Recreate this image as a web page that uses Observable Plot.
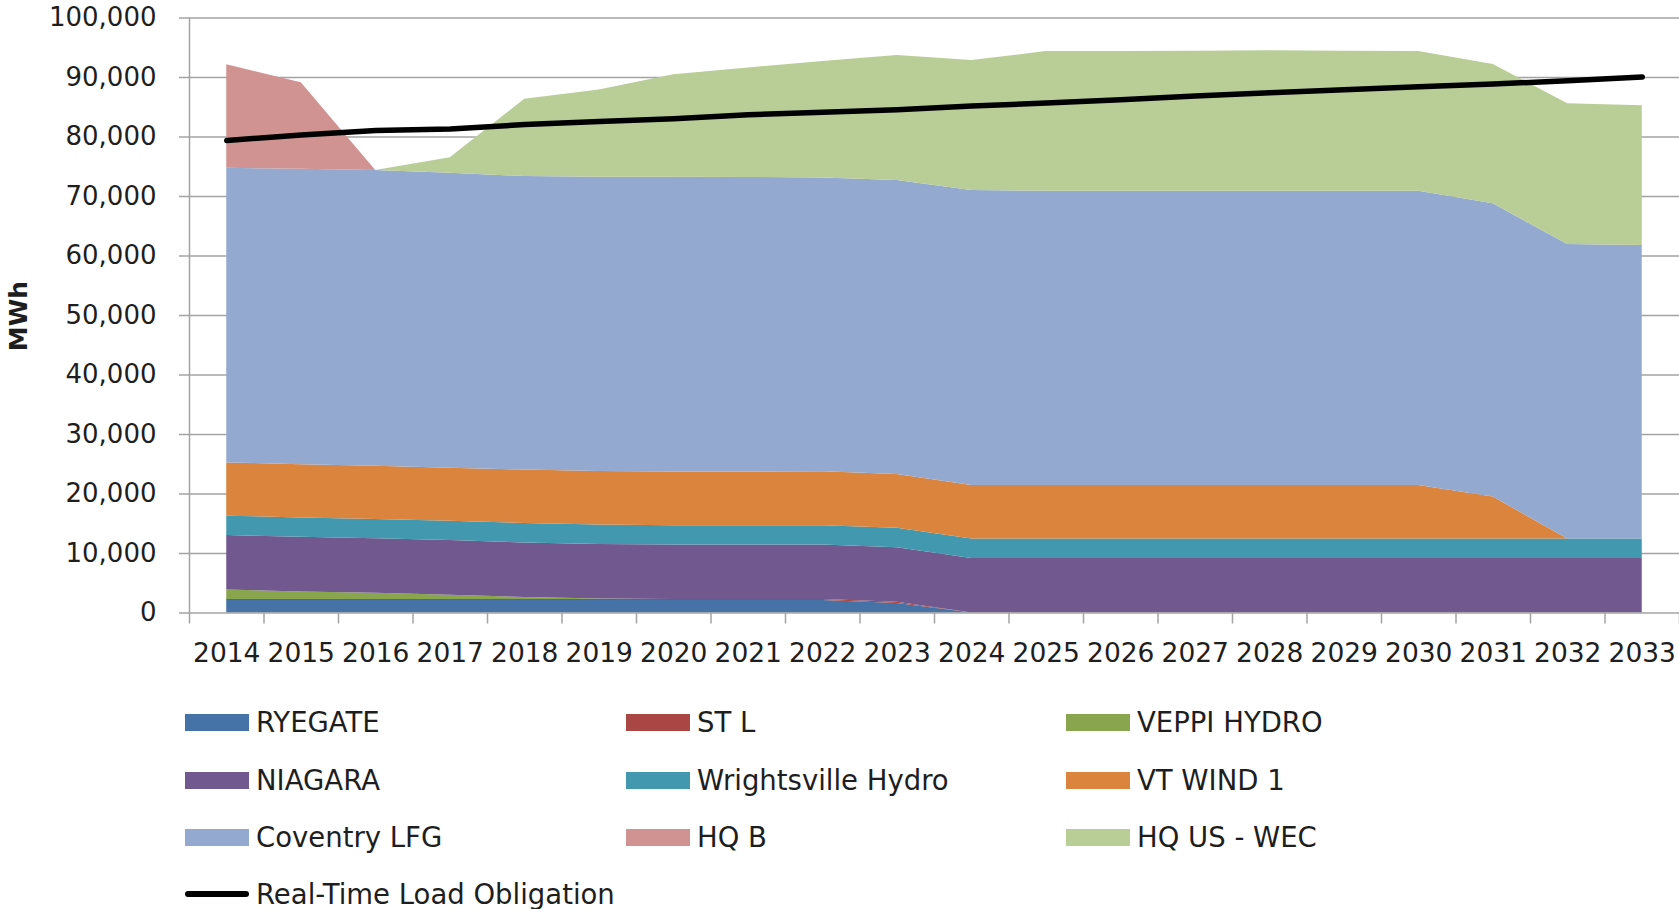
<!DOCTYPE html>
<html>
<head>
<meta charset="utf-8">
<script src="https://cdn.jsdelivr.net/npm/d3@7"></script>
<script src="https://cdn.jsdelivr.net/npm/@observablehq/plot@0.6"></script>
<style>
  html, body { margin: 0; padding: 0; background: #ffffff; }
  body { position: relative; width: 1679px; height: 909px; overflow: hidden; font-family: "DejaVu Sans", sans-serif; color: #1e1e1e; }
  #legend { position: relative; width: 1679px; height: 219px; }
  #ylabel { position: absolute; left: 18px; top: 316px; transform: translate(-50%, -50%) rotate(-90deg); font-weight: bold; font-size: 25px; white-space: nowrap; }
  .item { position: absolute; height: 40px; display: flex; align-items: center; font-size: 27.5px; white-space: nowrap; }
  .sw { display: inline-block; width: 64px; height: 17px; margin-right: 7px; }
  .ln { display: inline-block; width: 64px; height: 6px; margin-right: 7px; background: #000; border-radius: 3px; }
</style>
</head>
<body>
<div id="chart"></div>
<div id="legend"></div>
<div id="ylabel"></div>
<script>
// ---- data ----
const years = [2014, 2015, 2016, 2017, 2018, 2019, 2020, 2021, 2022, 2023, 2024, 2025, 2026, 2027, 2028, 2029, 2030, 2031, 2032, 2033];

const seriesNames = ["RYEGATE", "ST L", "VEPPI HYDRO", "NIAGARA", "Wrightsville Hydro", "VT WIND 1", "Coventry LFG", "HQ B", "HQ US - WEC"];
const seriesColors = ["#4572A7", "#AA4643", "#89A54E", "#71588F", "#4198AF", "#DB843D", "#93A9CF", "#D19392", "#B9CD96"];

const ryegate   = [2100, 2100, 2100, 2100, 2100, 2100, 2100, 2100, 2100, 1600, 0, 0, 0, 0, 0, 0, 0, 0, 0, 0];
const stL       = [150, 150, 150, 150, 150, 150, 150, 150, 150, 200, 0, 0, 0, 0, 0, 0, 0, 0, 0, 0];
const veppi     = [1600, 1300, 1050, 750, 350, 100, 0, 0, 0, 0, 0, 0, 0, 0, 0, 0, 0, 0, 0, 0];
const niagara   = [9180, 9180, 9180, 9180, 9180, 9180, 9180, 9180, 9180, 9180, 9180, 9180, 9180, 9180, 9180, 9180, 9180, 9180, 9180, 9180];
const wrights   = [3250, 3250, 3250, 3250, 3250, 3250, 3250, 3250, 3250, 3250, 3250, 3250, 3250, 3250, 3250, 3250, 3250, 3250, 3250, 3250];
const vtWind    = [8950, 8950, 8950, 8900, 9000, 9000, 9000, 9000, 9050, 9050, 9000, 9000, 9000, 9000, 9000, 9000, 9000, 7050, 0, 0];
const coventry  = [49500, 49670, 49690, 49570, 49330, 49470, 49570, 49520, 49370, 49420, 49570, 49470, 49470, 49470, 49470, 49470, 49470, 49290, 49500, 49330];
const hqB       = [17400, 14500, 0, 0, 0, 0, 0, 0, 0, 0, 0, 0, 0, 0, 0, 0, 0, 0, 0, 0];
const hqUsWec   = [0, 0, 0, 2600, 13000, 14650, 17200, 18400, 19600, 21000, 21850, 23450, 23450, 23500, 23600, 23500, 23450, 23400, 23650, 23500];

const loadObligation = [79400, 80350, 81100, 81350, 82100, 82600, 83050, 83750, 84150, 84600, 85200, 85700, 86250, 86900, 87450, 87950, 88450, 88900, 89450, 90100];
const loadName = "Real-Time Load Obligation";

const yTicks = [0, 10000, 20000, 30000, 40000, 50000, 60000, 70000, 80000, 90000, 100000];
const yLabel = "MWh";

// ---- build tables ----
const seriesValues = [ryegate, stL, veppi, niagara, wrights, vtWind, coventry, hqB, hqUsWec];
const rows = seriesNames.flatMap((s, i) => years.map((yr, j) => ({year: yr, series: s, value: seriesValues[i][j]})));
const loadRows = years.map((yr, j) => ({year: yr, value: loadObligation[j]}));
const bounds = [years[0] - 0.5, ...years.map(y => y + 0.5)];

const grid = "#a3a3a3";
const ink = "#1e1e1e";

const chart = Plot.plot({
  width: 1679,
  height: 690,
  marginLeft: 189,
  marginRight: 0,
  marginTop: 17.5,
  marginBottom: 77.5,
  x: {type: "linear", domain: [bounds[0], bounds[bounds.length - 1]]},
  y: {domain: [0, 100000]},
  color: {domain: seriesNames, range: seriesColors},
  style: {fontFamily: "DejaVu Sans", color: ink, background: "#ffffff", overflow: "visible"},
  marks: [
    Plot.ruleY(yTicks.slice(1), {stroke: grid, strokeWidth: 1.5}),
    Plot.areaY(rows, {x: "year", y: "value", z: "series", fill: "series", order: seriesNames}),
    Plot.ruleY([0], {stroke: grid, strokeWidth: 1.5}),
    Plot.ruleX([bounds[0]], {stroke: grid, strokeWidth: 1.5}),
    Plot.lineY(loadRows, {x: "year", y: "value", stroke: "#000", strokeWidth: 5.5, strokeLinecap: "round", strokeLinejoin: "round"}),
    Plot.axisY(yTicks, {anchor: "left", tickSize: 10, tickPadding: 23, stroke: grid, strokeWidth: 1.5, fill: ink, fontSize: 26, tickFormat: d3.format(","), label: null}),
    Plot.axisX(bounds, {anchor: "bottom", tickSize: 11, stroke: grid, strokeWidth: 1.5, tickFormat: () => "", label: null}),
    Plot.axisX(years, {anchor: "bottom", tickSize: 0, tickPadding: 30, fill: ink, fontSize: 26.5, tickFormat: d => `${d}`, label: null})
  ]
});
document.getElementById("chart").appendChild(chart);

// y-axis title
document.getElementById("ylabel").textContent = yLabel;

// ---- legend (HTML, below the SVG) ----
const legend = document.getElementById("legend");
const colX = [185, 626, 1066];
const rowY = [32, 90, 147, 204];
const entries = seriesNames.map((s, i) => ({name: s, color: seriesColors[i], line: false}));
entries.push({name: loadName, color: "#000", line: true});
entries.forEach((e, i) => {
  const r = Math.floor(i / 3), c = i % 3;
  const div = document.createElement("div");
  div.className = "item";
  div.style.left = colX[c] + "px";
  div.style.top = (rowY[r] - 20) + "px";
  const sw = document.createElement("span");
  sw.className = e.line ? "ln" : "sw";
  sw.style.background = e.color;
  const tx = document.createElement("span");
  tx.textContent = e.name;
  div.appendChild(sw);
  div.appendChild(tx);
  legend.appendChild(div);
});
</script>
</body>
</html>
